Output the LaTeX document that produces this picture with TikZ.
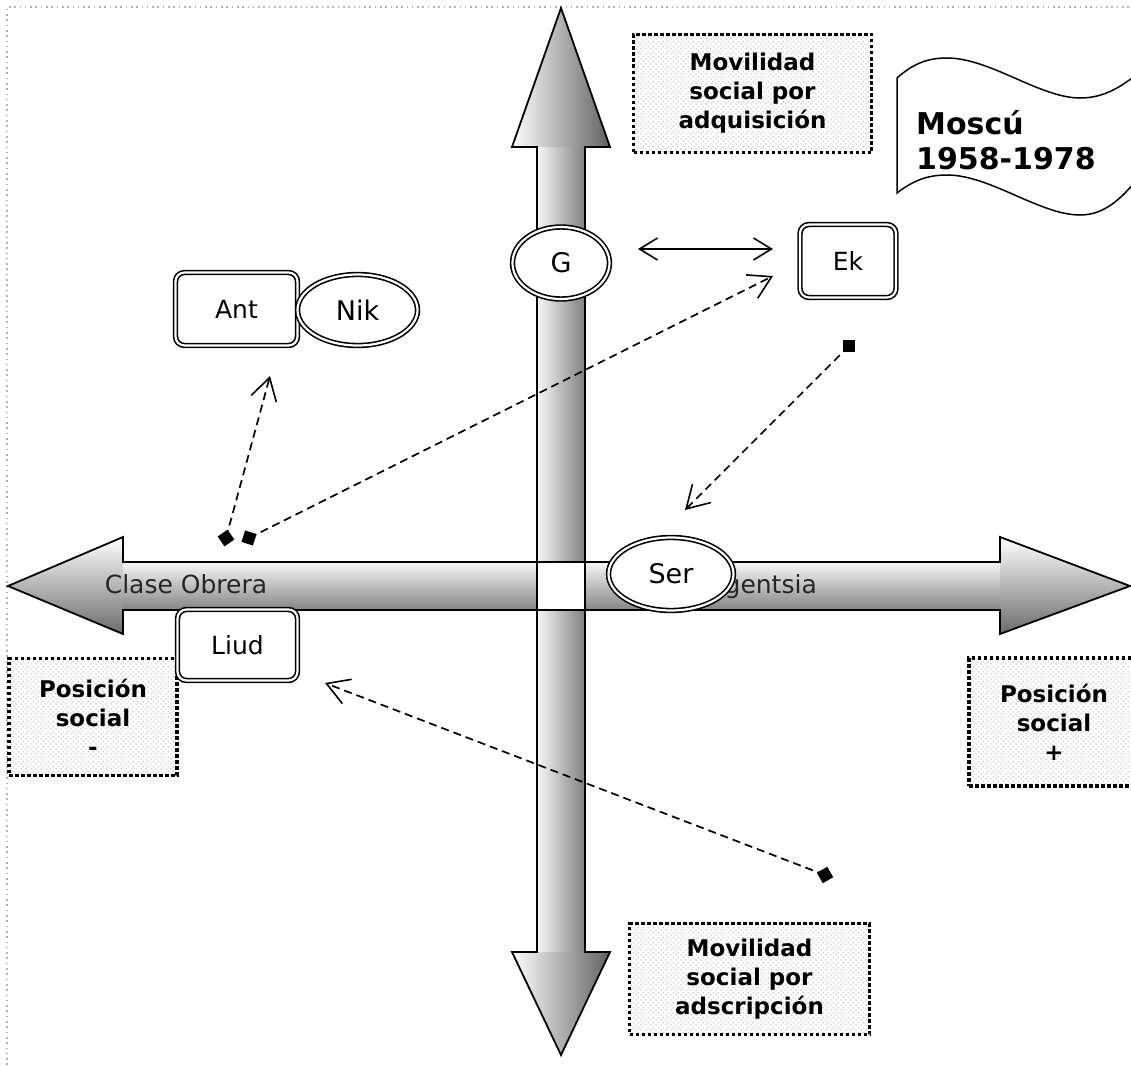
\documentclass[tikz,border=0pt]{standalone}
\usepackage{fontspec}
\setmainfont{DejaVu Sans}
\usetikzlibrary{arrows.meta,patterns.meta,shapes.geometric}

% light staggered dot texture for the note boxes
\tikzdeclarepattern{
  name=boxdots,
  type=uncolored,
  bounding box={(0pt,0pt) and (5pt,5pt)},
  tile size={(5pt,5pt)},
  code={
    \pgfpathcircle{\pgfpoint{1.25pt}{1.25pt}}{0.7pt}
    \pgfpathcircle{\pgfpoint{3.75pt}{3.75pt}}{0.7pt}
    \pgfusepath{fill}
  }
}

\tikzset{
  barb/.tip={Straight Barb[length=22pt,width=26pt,line width=1.6pt]},
  smallbarb/.tip={Straight Barb[length=18pt,width=22pt,line width=1.6pt]},
  dbl/.style={draw=black, line width=1.6pt, double=white, double distance=2.2pt,
              fill=white, inner sep=0pt},
  roundbox/.style={dbl, rectangle, rounded corners=9pt,
                   font=\fontsize{25}{30}\selectfont},
  ovalbox/.style={dbl, ellipse, font=\fontsize{27}{32}\selectfont},
  infobox/.style={draw=black, line width=3.5pt, dash pattern=on 3.5pt off 2.5pt,
                  pattern={boxdots}, pattern color=black!50, inner sep=0pt,
                  align=center, font=\bfseries\fontsize{23}{29}\selectfont},
  dotsq/.style={fill=black, rectangle, minimum size=12pt, inner sep=0pt},
  dline/.style={line width=1.7pt, dash pattern=on 8pt off 5pt, -barb},
  axisline/.style={draw=black, line width=1.8pt, line join=miter},
  axislabel/.style={font=\fontsize{25}{30}\selectfont, text=black!85, inner sep=0pt}
}

\begin{document}
\begin{tikzpicture}[x=1pt,y=-1pt]
\useasboundingbox (0,0) rectangle (1131,1065);
\clip (0,0) rectangle (1131,1065);

% page frame (top and left)
\draw[black!30, line width=1.6pt, dash pattern=on 1.6pt off 3.7pt]
  (7,1065) -- (7,7) -- (1131,7);

% horizontal axis: shaded shaft and heads
\shade[top color=black!3, bottom color=black!48] (123,562) rectangle (1000,610);
\shade[top color=white, bottom color=black!58] (8,586) -- (123,537) -- (123,634) -- cycle;
\shade[top color=white, bottom color=black!58] (1130,586) -- (1000,537) -- (1000,634) -- cycle;

% vertical axis: shaded shaft and heads
\shade[left color=black!3, right color=black!50] (537,147) rectangle (585,952);
\shade[left color=white, right color=black!62] (561,8) -- (610,147) -- (512,147) -- cycle;
\shade[left color=white, right color=black!62] (561,1055) -- (610,952) -- (512,952) -- cycle;

% blank crossing
\fill[white] (537,562) rectangle (585,610);

% axis outlines
\draw[axisline] (8,586) -- (123,537) -- (123,562) -- (1000,562) -- (1000,537)
  -- (1130,586) -- (1000,634) -- (1000,610) -- (123,610) -- (123,634) -- cycle;
\draw[axisline] (561,8) -- (610,147) -- (585,147) -- (585,952) -- (610,952)
  -- (561,1055) -- (512,952) -- (537,952) -- (537,147) -- (512,147) -- cycle;

% axis labels
\node[axislabel, anchor=base] (obrera) at (186,593) {Clase Obrera};
\node[axislabel, anchor=base east] (intel) at (817,593) {Intelligentsia};

% note boxes
\node[infobox, minimum width=238pt, minimum height=118pt] (adq) at (752.5,93.5)
  {Movilidad\\social por\\adquisición};
\node[infobox, minimum width=240pt, minimum height=111pt] (adsc) at (749.5,979)
  {Movilidad\\social por\\adscripción};
\node[infobox, minimum width=168pt, minimum height=117pt] (posneg) at (93,717)
  {Posición\\social\\-};
\node[infobox, minimum width=170pt, minimum height=128pt] (pospos) at (1054,722)
  {Posición\\social\\+};

% waving banner
\draw[line width=1.5pt, fill=white]
  (897,78) .. controls (915,62) and (930,58) .. (947,58)
  .. controls (990,58) and (1040,98) .. (1080,98)
  .. controls (1105,98) and (1122,86) .. (1140,72)
  -- (1140,176) .. controls (1122,198) and (1105,215) .. (1080,215)
  .. controls (1040,215) and (990,175) .. (947,175)
  .. controls (930,175) and (915,179) .. (897,193) -- cycle;
\node[anchor=west, align=left, inner sep=0pt,
      font=\bfseries\fontsize{30}{35}\selectfont] (moscu) at (916,140)
  {Moscú\\1958-1978};

% people
\node[roundbox, minimum width=122pt, minimum height=73pt] (Ant) at (236.5,309) {Ant};
\node[ovalbox, minimum width=120pt, minimum height=71pt] (Nik) at (357.5,310) {Nik};
\node[ovalbox, minimum width=97pt, minimum height=72pt] (G) at (561,263) {G};
\node[roundbox, minimum width=96pt, minimum height=73pt] (Ek) at (848,261) {Ek};
\node[ovalbox, minimum width=125pt, minimum height=73pt] (Ser) at (671,574) {Ser};
\node[roundbox, minimum width=120pt, minimum height=71pt] (Liud) at (237.5,645) {Liud};

% start markers of the trajectories
\node[dotsq, rotate=35] (m1) at (226,538) {};
\node[dotsq, rotate=-18] (m2) at (249,538) {};
\node[dotsq] (m3) at (849,346) {};
\node[dotsq, rotate=30] (m4) at (825,875) {};

% arrow ends
\coordinate (toAnt) at (270,376);
\coordinate (toEk) at (773,276);
\coordinate (toSer) at (685,510);
\coordinate (toLiud) at (325,683);
\coordinate (gEnd) at (638,249);
\coordinate (ekEnd) at (773,249);

% trajectories
\draw[dline] (m1.center) -- (toAnt);
\draw[dline] (m2.center) -- (toEk);
\draw[dline] (m3.center) -- (toSer);
\draw[dline] (m4.center) -- (toLiud);

% G <-> Ek
\draw[line width=1.6pt, smallbarb-smallbarb] (gEnd) -- (ekEnd);
\end{tikzpicture}
\end{document}
